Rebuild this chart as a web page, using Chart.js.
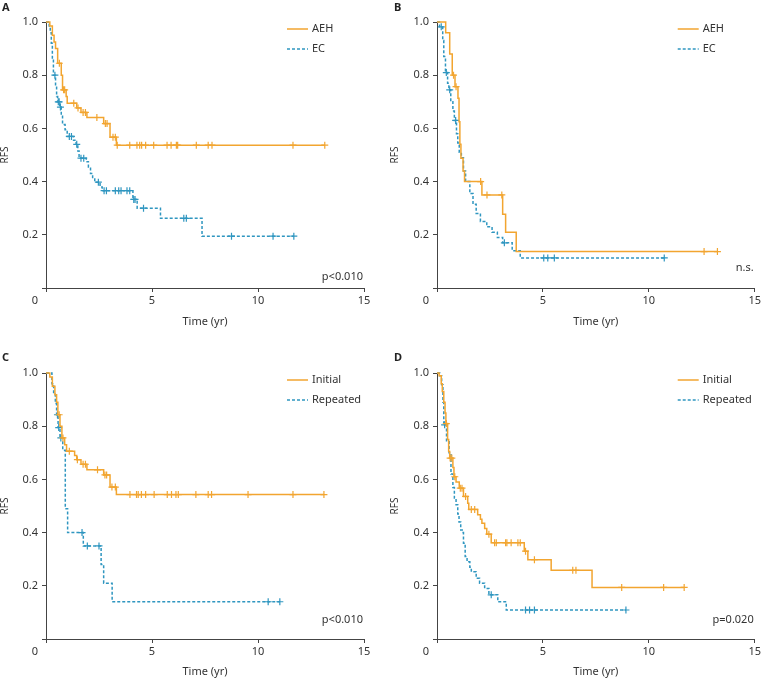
<!DOCTYPE html>
<html>
<head>
<meta charset="utf-8">
<script src="https://cdn.jsdelivr.net/npm/chart.js@4.4.1/dist/chart.umd.min.js"></script>
<style>
  body { margin: 0; background: #fff; }
  #wrap { position: relative; width: 763px; height: 679px; }
  canvas { position: absolute; }
</style>
</head>
<body>
<div id="wrap">
  <canvas id="chartA" width="381" height="335" style="left:0;top:0"></canvas>
  <canvas id="chartB" width="381" height="335" style="left:382px;top:0"></canvas>
  <canvas id="chartC" width="381" height="344" style="left:0;top:335px"></canvas>
  <canvas id="chartD" width="381" height="344" style="left:382px;top:335px"></canvas>
</div>
<script>
// step times (yr), survival after each step, censor times
// A: AEH vs EC
const aehA_t = [0, 0.18, 0.3, 0.38, 0.45, 0.55, 0.72, 0.78, 0.95, 1.0, 1.45, 1.65, 1.93, 2.72, 3.02, 3.32];
const aehA_s = [1, 0.985, 0.95, 0.925, 0.9, 0.845, 0.80, 0.745, 0.72, 0.695, 0.677, 0.66, 0.641, 0.618, 0.567, 0.537];
const aehA_c = [0.63, 0.83, 0.88, 1.31, 1.51, 1.75, 1.86, 2.4, 2.8, 2.88, 3.16, 3.27, 3.36, 3.95, 4.29, 4.42, 4.51, 4.7, 5.08, 5.71, 5.9, 6.15, 6.21, 7.09, 7.65, 7.83, 11.65, 13.15];
const ecA_t = [0, 0.15, 0.2, 0.25, 0.3, 0.35, 0.45, 0.5, 0.55, 0.65, 0.72, 0.78, 0.9, 1.0, 1.3, 1.42, 1.5, 1.56, 1.9, 2.0, 2.1, 2.2, 2.3, 2.55, 2.65, 4.1, 4.3, 5.4, 7.36];
const ecA_s = [1, 0.985, 0.96, 0.92, 0.86, 0.80, 0.76, 0.72, 0.70, 0.68, 0.65, 0.615, 0.595, 0.57, 0.555, 0.54, 0.515, 0.488, 0.475, 0.455, 0.43, 0.41, 0.398, 0.38, 0.366, 0.333, 0.30, 0.262, 0.195];
const ecA_c = [0.42, 0.58, 0.62, 0.68, 1.1, 1.2, 1.45, 1.65, 1.78, 2.47, 2.74, 2.85, 3.27, 3.43, 3.54, 3.82, 3.95, 4.14, 4.2, 4.6, 6.5, 6.62, 8.75, 10.71, 11.69];

// B: AEH vs EC
const aehB_t = [0, 0.41, 0.6, 0.72, 0.85, 0.99, 1.04, 1.08, 1.13, 1.23, 1.3, 2.12, 3.1, 3.24, 3.74];
const aehB_s = [1, 0.96, 0.88, 0.80, 0.757, 0.713, 0.625, 0.54, 0.488, 0.44, 0.40, 0.35, 0.277, 0.21, 0.137];
const aehB_c = [0.78, 0.9, 2.06, 2.36, 3.06, 12.61, 13.24];
const ecB_t = [0, 0.12, 0.27, 0.32, 0.4, 0.5, 0.56, 0.65, 0.75, 0.82, 0.92, 0.98, 1.05, 1.15, 1.25, 1.35, 1.55, 1.7, 1.85, 2.05, 2.35, 2.6, 2.85, 3.1, 3.55, 3.93];
const ecB_s = [1, 0.982, 0.93, 0.87, 0.81, 0.77, 0.745, 0.70, 0.665, 0.63, 0.58, 0.545, 0.51, 0.49, 0.44, 0.40, 0.355, 0.315, 0.28, 0.25, 0.23, 0.21, 0.19, 0.17, 0.14, 0.113];
const ecB_c = [0.2, 0.44, 0.6, 0.88, 3.18, 5.04, 5.23, 5.54, 10.73];

// C: Initial vs Repeated
const iniC_t = [0, 0.18, 0.3, 0.42, 0.5, 0.56, 0.66, 0.75, 0.88, 0.97, 1.35, 1.45, 1.65, 1.93, 2.72, 3.02, 3.32];
const iniC_s = [1, 0.985, 0.95, 0.918, 0.89, 0.843, 0.80, 0.756, 0.73, 0.706, 0.69, 0.674, 0.657, 0.636, 0.617, 0.571, 0.543];
const iniC_c = [0.62, 0.8, 1.1, 1.48, 1.75, 1.86, 2.43, 2.78, 2.86, 3.11, 3.27, 3.96, 4.27, 4.35, 4.5, 4.7, 5.1, 5.72, 5.92, 6.13, 6.24, 7.07, 7.65, 7.81, 9.53, 11.65, 13.11];
const repC_t = [0, 0.28, 0.36, 0.44, 0.5, 0.57, 0.66, 0.79, 0.91, 1.02, 1.76, 2.6, 2.72, 3.12];
const repC_s = [1, 0.96, 0.92, 0.885, 0.843, 0.795, 0.756, 0.71, 0.49, 0.40, 0.35, 0.28, 0.21, 0.14];
const repC_c = [0.54, 0.6, 0.7, 1.7, 1.95, 2.5, 10.48, 11.03];

// D: Initial vs Repeated
const iniD_t = [0, 0.1, 0.2, 0.25, 0.32, 0.38, 0.42, 0.5, 0.55, 0.6, 0.75, 0.8, 0.9, 1.05, 1.25, 1.45, 1.5, 1.92, 2.05, 2.12, 2.25, 2.35, 2.56, 4.12, 4.29, 5.39, 7.32];
const iniD_s = [1, 0.99, 0.96, 0.93, 0.89, 0.85, 0.81, 0.75, 0.705, 0.68, 0.645, 0.61, 0.59, 0.567, 0.536, 0.51, 0.487, 0.467, 0.45, 0.435, 0.415, 0.394, 0.362, 0.33, 0.298, 0.258, 0.194];
const iniD_c = [0.44, 0.62, 0.7, 0.84, 1.1, 1.18, 1.35, 1.62, 1.78, 2.45, 2.72, 2.8, 3.24, 3.3, 3.5, 3.82, 3.93, 4.18, 4.6, 6.41, 6.56, 8.72, 10.7, 11.67];
const repD_t = [0, 0.13, 0.22, 0.28, 0.32, 0.45, 0.57, 0.66, 0.75, 0.82, 0.9, 0.98, 1.04, 1.12, 1.19, 1.25, 1.33, 1.42, 1.55, 1.62, 1.85, 2.01, 2.25, 2.45, 2.87, 3.27];
const repD_s = [1, 0.99, 0.956, 0.89, 0.805, 0.745, 0.70, 0.62, 0.57, 0.53, 0.505, 0.47, 0.44, 0.41, 0.40, 0.36, 0.31, 0.29, 0.27, 0.253, 0.228, 0.21, 0.19, 0.166, 0.14, 0.109];
const repD_c = [0.36, 2.56, 4.18, 4.37, 4.6, 8.92];

const xTicks = [0, 5, 10, 15];
const yTicks = [0, 0.2, 0.4, 0.6, 0.8, 1.0];

const ORANGE = '#f2a530';
const BLUE = '#2f96c0';
const FONT = '"Noto Sans", "Open Sans", sans-serif';

function levelAt(times, surv, t) {
  let s = surv[0];
  for (let i = 0; i < times.length; i++) if (times[i] <= t) s = surv[i];
  return s;
}

function kmSets(label, times, surv, cens, color, dash) {
  const pts = times.map((t, i) => ({x: t, y: surv[i]}));
  pts.push({x: cens[cens.length - 1], y: surv[surv.length - 1]});
  return [
    {label: label, data: pts, stepped: true, borderColor: color, borderWidth: 1.5,
     borderDash: dash, pointRadius: 0, fill: false, clip: false},
    {label: label + ' censored', data: cens.map(t => ({x: t, y: levelAt(times, surv, t)})),
     showLine: false, pointStyle: 'cross', pointRadius: 3.5, pointBorderWidth: 1.2,
     borderColor: color, backgroundColor: color, clip: false}
  ];
}

// legend, p-value, panel letter, and the shifted "0"
const decoPlugin = {
  id: 'deco',
  afterDraw(chart, args, o) {
    const ctx = chart.ctx, a = chart.chartArea;
    ctx.save();
    ctx.fillStyle = '#222';
    ctx.font = 'bold 11px ' + FONT;
    ctx.textBaseline = 'top';
    ctx.textAlign = 'left';
    ctx.fillText(o.letter, o.lx, o.ly);

    ctx.font = '11px ' + FONT;
    ctx.fillStyle = '#333';
    ctx.textBaseline = 'middle';
    const lines = chart.data.datasets.filter((d, i) => i % 2 === 0);
    lines.forEach((d, i) => {
      const y = a.top + 7 + i * 20;
      ctx.strokeStyle = d.borderColor;
      ctx.lineWidth = 1.5;
      ctx.setLineDash(d.borderDash || []);
      ctx.beginPath();
      ctx.moveTo(a.right - 77, y);
      ctx.lineTo(a.right - 56, y);
      ctx.stroke();
      ctx.setLineDash([]);
      ctx.fillText(d.label, a.right - 52, y);
    });

    ctx.textAlign = 'right';
    ctx.fillText(o.p, a.right - 1, a.bottom - o.pDy);

    ctx.textAlign = 'center';
    ctx.textBaseline = 'top';
    ctx.fillText('0', chart.scales.x.getPixelForValue(0) - 11, a.bottom + 7);
    ctx.restore();
  }
};

function makeChart(id, sets, deco, lay) {
  return new Chart(document.getElementById(id), {
    type: 'line',
    data: {datasets: sets},
    plugins: [decoPlugin],
    options: {
      responsive: false,
      animation: false,
      events: [],
      layout: {padding: {left: 0, top: lay.top, right: lay.right, bottom: 0}},
      plugins: {legend: {display: false}, tooltip: {enabled: false}, deco: deco},
      scales: {
        x: {
          type: 'linear', min: 0, max: 15,
          afterBuildTicks: s => { s.ticks = xTicks.map(v => ({value: v})); },
          afterFit: s => { s.height = lay.xH; },
          grid: {drawOnChartArea: false, drawTicks: true, tickLength: 4, color: '#444'},
          border: {display: true, color: '#444', width: 1},
          ticks: {color: '#333', font: {family: FONT, size: 11}, padding: 2,
                  maxRotation: 0, callback: v => v === 0 ? '' : v},
          title: {display: true, text: 'Time (yr)', color: '#333',
                  font: {family: FONT, size: 11}, padding: {top: 0, bottom: lay.xTitle}}
        },
        y: {
          type: 'linear', min: 0, max: 1,
          afterBuildTicks: s => { s.ticks = yTicks.map(v => ({value: v})); },
          afterFit: s => { s.width = lay.yW; },
          grid: {drawOnChartArea: false, drawTicks: true, tickLength: 4, color: '#444'},
          border: {display: true, color: '#444', width: 1},
          ticks: {color: '#333', font: {family: FONT, size: 11}, padding: 4,
                  callback: v => v === 0 ? '' : v.toFixed(1)},
          title: {display: true, text: 'RFS', color: '#333',
                  font: {family: FONT, size: 10, lineHeight: 1}, padding: {top: lay.yTitle, bottom: 0}}
        }
      }
    }
  });
}

makeChart('chartA',
  [...kmSets('AEH', aehA_t, aehA_s, aehA_c, ORANGE, []), ...kmSets('EC', ecA_t, ecA_s, ecA_c, BLUE, [3, 2])],
  {letter: 'A', lx: 2, ly: 2, p: 'p<0.010', pDy: 11},
  {top: 22, right: 17, xH: 47, xTitle: 7, yW: 46, yTitle: 0});

makeChart('chartB',
  [...kmSets('AEH', aehB_t, aehB_s, aehB_c, ORANGE, []), ...kmSets('EC', ecB_t, ecB_s, ecB_c, BLUE, [3, 2])],
  {letter: 'B', lx: 12, ly: 2, p: 'n.s.', pDy: 20},
  {top: 22, right: 8, xH: 47, xTitle: 7, yW: 55, yTitle: 8});

makeChart('chartC',
  [...kmSets('Initial', iniC_t, iniC_s, iniC_c, ORANGE, []), ...kmSets('Repeated', repC_t, repC_s, repC_c, BLUE, [3, 2])],
  {letter: 'C', lx: 2, ly: 17, p: 'p<0.010', pDy: 19},
  {top: 38, right: 17, xH: 40, xTitle: 1, yW: 46, yTitle: 0});

makeChart('chartD',
  [...kmSets('Initial', iniD_t, iniD_s, iniD_c, ORANGE, []), ...kmSets('Repeated', repD_t, repD_s, repD_c, BLUE, [3, 2])],
  {letter: 'D', lx: 12, ly: 17, p: 'p=0.020', pDy: 19},
  {top: 38, right: 8, xH: 40, xTitle: 1, yW: 55, yTitle: 8});
</script>
</body>
</html>
